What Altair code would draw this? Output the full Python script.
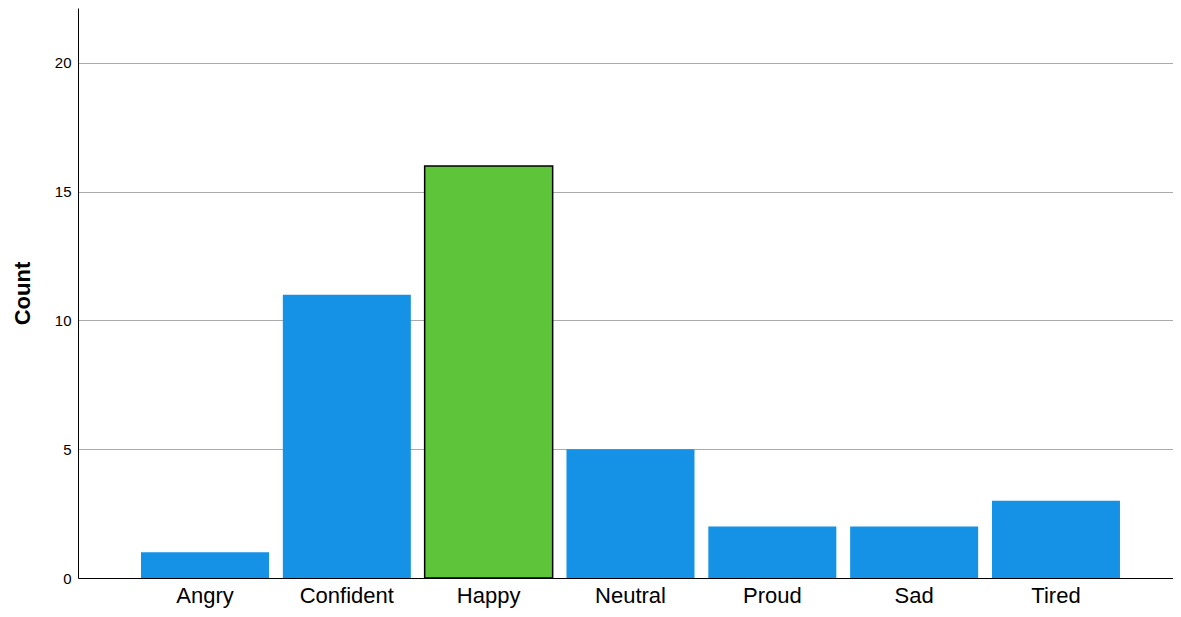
import altair as alt
import pandas as pd

categories = ["Angry", "Confident", "Happy", "Neutral", "Proud", "Sad", "Tired"]
counts = [1, 11, 16, 5, 2, 2, 3]
highlight = "Happy"
y_ticks = [0, 5, 10, 15, 20]

df = pd.DataFrame({"Emotion": categories, "Count": counts})

FONT = "Liberation Sans"

chart = (
    alt.Chart(df)
    .mark_bar(strokeWidth=1.5)
    .encode(
        x=alt.X(
            "Emotion:N",
            sort=categories,
            scale=alt.Scale(paddingInner=0.0975, paddingOuter=0.409, align=0.543),
            axis=alt.Axis(
                title=None,
                labelAngle=0,
                ticks=False,
                grid=False,
                domainColor="black",
                domainWidth=1,
                labelFont=FONT,
                labelFontSize=22,
                labelColor="black",
                labelPadding=7,
            ),
        ),
        y=alt.Y(
            "Count:Q",
            scale=alt.Scale(domain=[0, 22.13], nice=False),
            axis=alt.Axis(
                title="Count",
                values=y_ticks,
                ticks=False,
                grid=True,
                gridColor="#aaaaaa",
                gridWidth=1,
                domainColor="black",
                domainWidth=1,
                labelFont=FONT,
                labelFontSize=15,
                labelColor="black",
                labelPadding=7,
                titleFont=FONT,
                titleFontSize=22,
                titleFontWeight="bold",
                titleColor="black",
                titleAngle=-90,
                titleBaseline="middle",
                titleX=-56,
                titleY=285,
            ),
        ),
        color=alt.condition(
            alt.datum.Emotion == highlight, alt.value("#5ec43a"), alt.value("#1591e6")
        ),
        stroke=alt.condition(
            alt.datum.Emotion == highlight, alt.value("black"), alt.value("transparent")
        ),
    )
    .properties(
        width=1095,
        height=570,
        padding={"left": 70, "top": 0, "right": 0, "bottom": 31},
        autosize=alt.AutoSizeParams(type="none"),
    )
    .configure_view(stroke=None)
)

chart.save("out.html", embed_options={"renderer": "svg", "actions": False})
